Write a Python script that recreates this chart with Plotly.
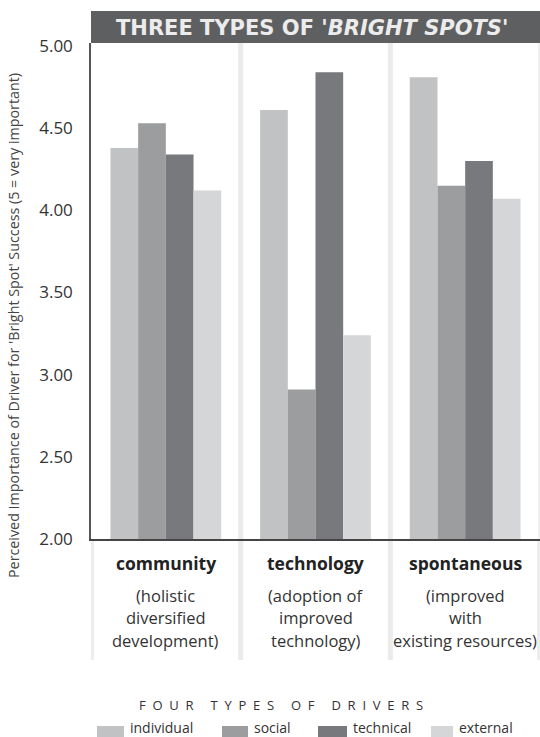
import plotly.graph_objects as go

categories = ["community", "technology", "spontaneous"]
subtitles = [["(holistic", "diversified", "development)"],
             ["(adoption of", "improved", "technology)"],
             ["(improved", "with", "existing resources)"]]
series_names = ["individual", "social", "technical", "external"]
individual = [4.38, 4.61, 4.81]
social = [4.53, 2.91, 4.15]
technical = [4.34, 4.84, 4.30]
external = [4.12, 3.24, 4.07]
series_values = [individual, social, technical, external]
series_colors = ["#c1c2c4", "#9c9d9f", "#78797c", "#d5d6d8"]
y_ticks = [2.0, 2.5, 3.0, 3.5, 4.0, 4.5, 5.0]

W, H = 540, 737
L, R, T, B = 91, 540, 43, 539  # plot area pixels

def px(x):
    return (x - L) / (R - L)

def py(y):
    return (B - y) / (B - T)

fig = go.Figure()
for name, vals, col in zip(series_names, series_values, series_colors):
    fig.add_trace(go.Bar(x=categories, y=vals, name=name, marker=dict(color=col, line=dict(width=0)),
                         showlegend=False))

ymax = 5 + 3 * (3 / 494)
fig.update_layout(
    width=W, height=H,
    margin=dict(l=L, r=W - R, t=T, b=H - B, pad=0),
    paper_bgcolor="white", plot_bgcolor="white",
    barmode="group", bargap=0.26, bargroupgap=0,
    font=dict(family="Open Sans", color="#333"),
    xaxis=dict(range=[-0.5, 2.5], showticklabels=False, ticks="", showgrid=False,
               showline=True, linecolor="#444", linewidth=1.5, zeroline=False),
    yaxis=dict(range=[2, ymax], tickvals=y_ticks, tickformat=".2f", ticks="",
               showgrid=False, showline=True, linecolor="#555", linewidth=1.5,
               zeroline=False, tickfont=dict(size=17, color="#333"), ticklabelstandoff=13),
)

shapes = []
# panel separators
for xs in [0.5, 1.5]:
    shapes.append(dict(type="line", xref="x", yref="paper", x0=xs, x1=xs, y0=py(660), y1=1,
                       line=dict(color="#ebebeb", width=5), layer="below"))
for xs in [-0.5, 2.5]:
    shapes.append(dict(type="line", xref="x", yref="paper", x0=xs, x1=xs, y0=py(660), y1=py(B),
                       line=dict(color="#ededed", width=6), layer="below"))
shapes.append(dict(type="line", xref="x", yref="paper", x0=2.5, x1=2.5, y0=py(B), y1=1,
                   line=dict(color="#f0f0f0", width=4), layer="below"))
# header bar
shapes.append(dict(type="rect", xref="paper", yref="paper", x0=px(91), x1=px(540), y0=py(43), y1=py(11),
                   fillcolor="#5e5f61", line=dict(width=0), layer="above"))

annotations = []
annotations.append(dict(xref="paper", yref="paper", x=px(312), y=py(28), showarrow=False,
                        text="<b>THREE TYPES OF '<i>BRIGHT SPOTS</i>'</b>",
                        font=dict(size=21, color="#ececec", family="DejaVu Sans"),
                        xanchor="center", yanchor="middle"))
annotations.append(dict(xref="paper", yref="paper", x=px(13), y=py(326), showarrow=False,
                        text="Perceived Importance of Driver for 'Bright Spot' Success (5 = very important)",
                        textangle=-90, font=dict(size=14.3, color="#444"),
                        xanchor="center", yanchor="middle"))
for i, (cat, subs) in enumerate(zip(categories, subtitles)):
    annotations.append(dict(xref="x", yref="paper", x=i, y=py(563), showarrow=False,
                            text="<b>" + cat + "</b>", font=dict(size=17.5, color="#222"),
                            xanchor="center", yanchor="middle"))
    for j, s in enumerate(subs):
        annotations.append(dict(xref="x", yref="paper", x=i, y=py(595 + 22.5 * j), showarrow=False,
                                text=s, font=dict(size=16.5, color="#333"),
                                xanchor="center", yanchor="middle"))

sp2 = "&nbsp;&nbsp;"
title_words = ["FOUR", "TYPES", "OF", "DRIVERS"]
legend_title = ("&nbsp;" * 5).join(sp2.join(list(w)) for w in title_words)
annotations.append(dict(xref="paper", yref="paper", x=px(281), y=py(705), showarrow=False,
                        text=legend_title,
                        font=dict(size=13, color="#333"), xanchor="center", yanchor="middle"))

legend_swatch_x = [97, 222, 318, 431]
legend_swatch_w = [27, 26, 29, 22]
for name, col, sx, sw in zip(series_names, series_colors, legend_swatch_x, legend_swatch_w):
    shapes.append(dict(type="rect", xref="paper", yref="paper", x0=px(sx), x1=px(sx + sw),
                       y0=py(741), y1=py(726), fillcolor=col, line=dict(width=0)))
    annotations.append(dict(xref="paper", yref="paper", x=px(sx + sw + 4), y=py(727), showarrow=False,
                            text=name, font=dict(size=14, color="#333"),
                            xanchor="left", yanchor="middle"))

fig.update_layout(shapes=shapes, annotations=annotations)
fig.write_html("out.html")
